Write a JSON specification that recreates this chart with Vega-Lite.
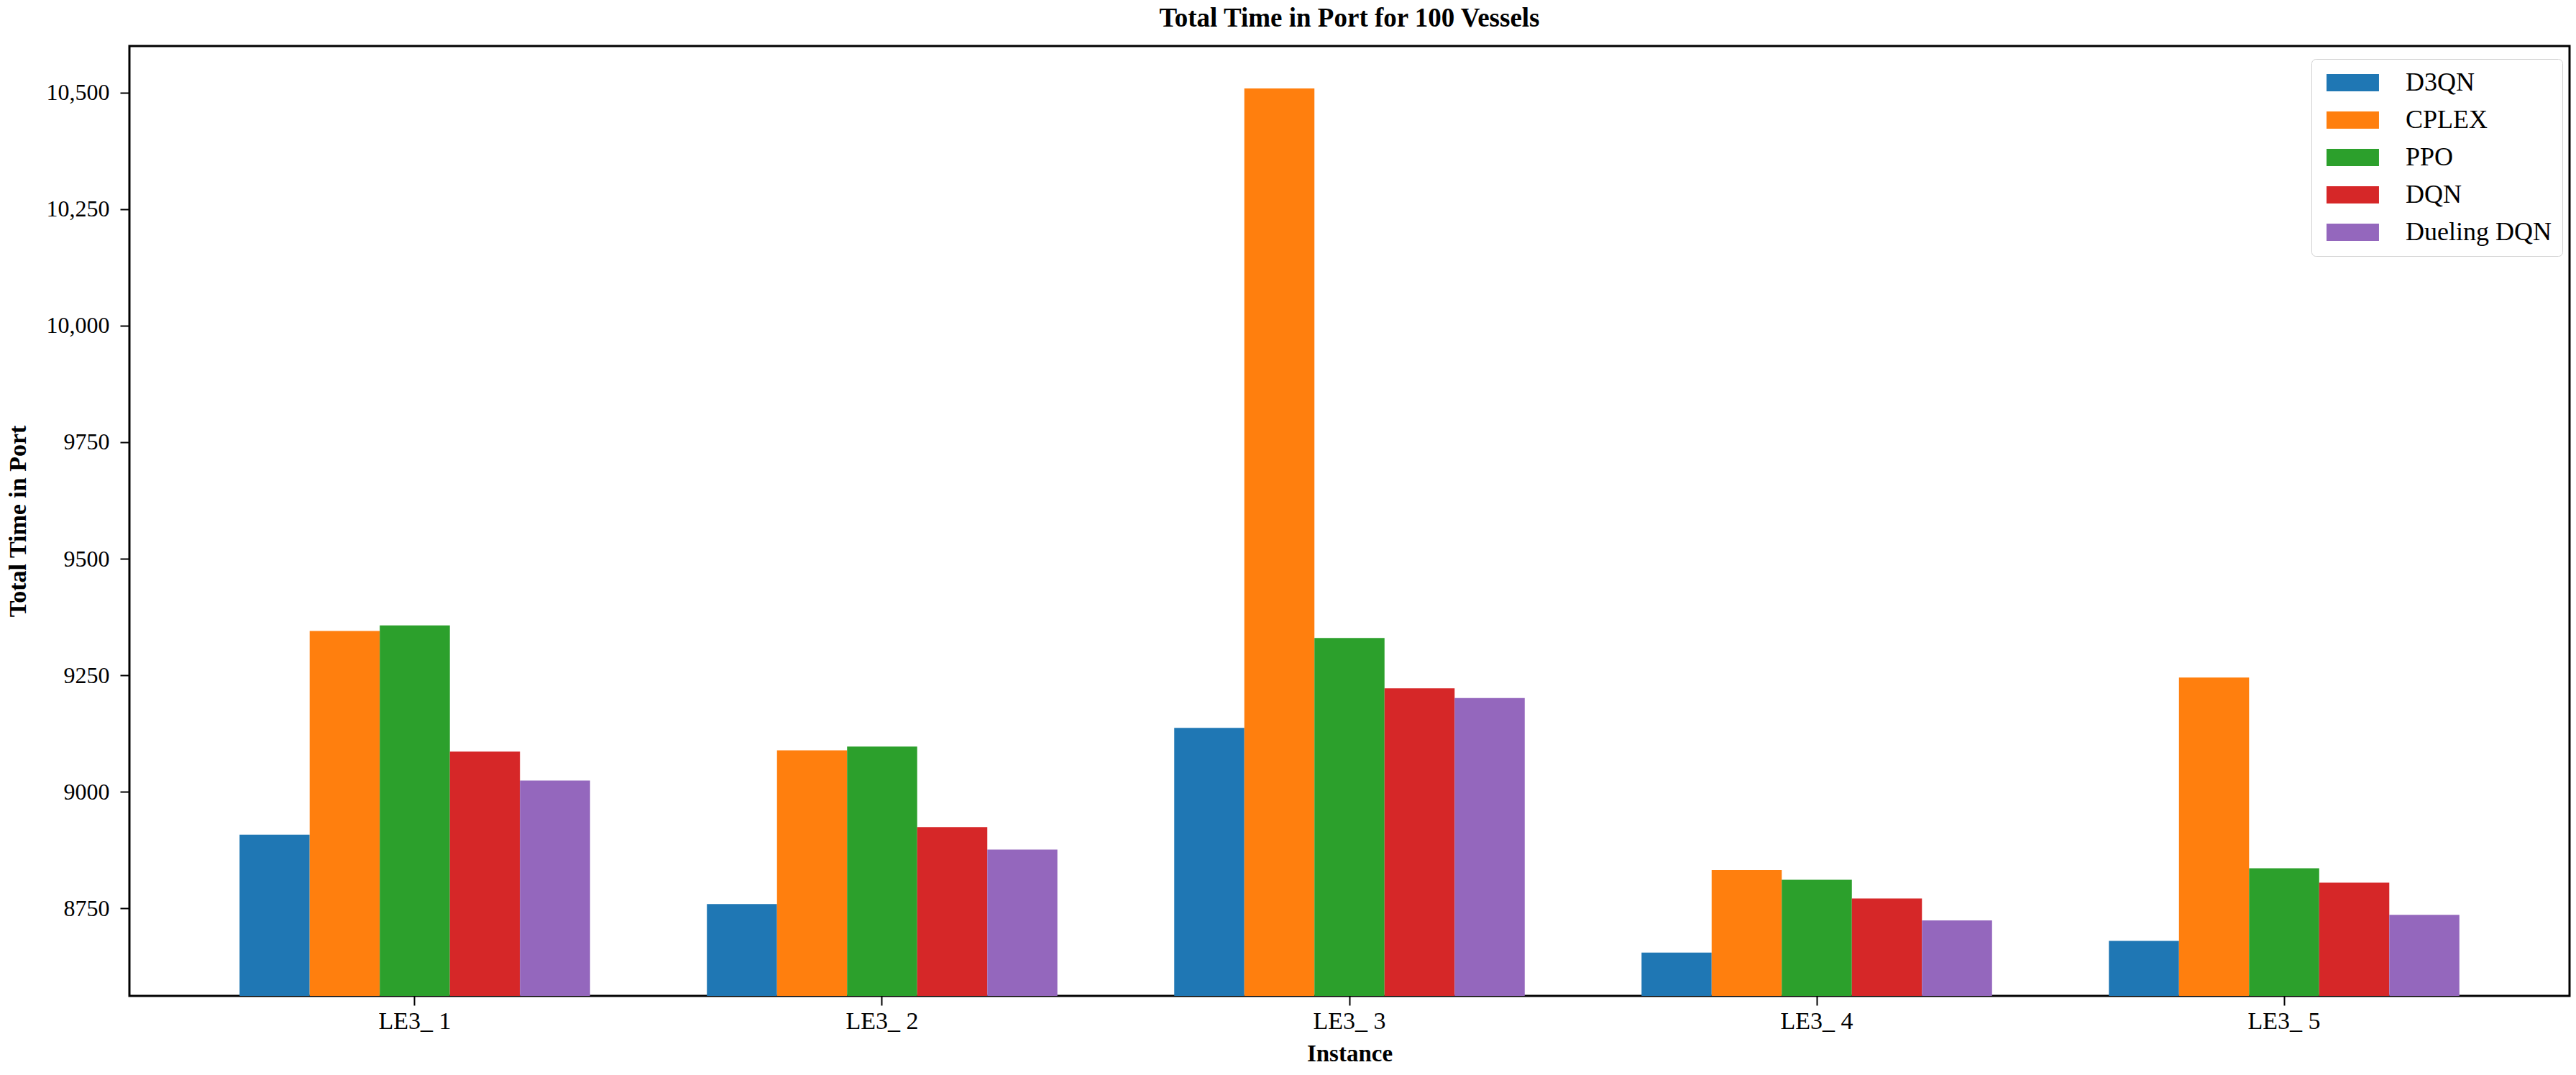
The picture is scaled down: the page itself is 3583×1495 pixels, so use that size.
{
  "$schema": "https://vega.github.io/schema/vega-lite/v6.json",
  "width": 3394,
  "height": 1321,
  "autosize": {"type": "none"},
  "padding": {"left": 180, "top": 64, "right": 9, "bottom": 110},
  "background": "white",
  "title": {"text": "Total Time in Port for 100 Vessels", "font": "Liberation Serif", "fontSize": 37, "fontWeight": "bold", "color": "black", "offset": 19, "anchor": "middle"},
  "data": {
    "values": [
      {"instance": "LE3_ 1", "method": "D3QN", "time": 8908},
      {"instance": "LE3_ 1", "method": "CPLEX", "time": 9345},
      {"instance": "LE3_ 1", "method": "PPO", "time": 9357},
      {"instance": "LE3_ 1", "method": "DQN", "time": 9086},
      {"instance": "LE3_ 1", "method": "Dueling DQN", "time": 9024},
      {"instance": "LE3_ 2", "method": "D3QN", "time": 8759},
      {"instance": "LE3_ 2", "method": "CPLEX", "time": 9089},
      {"instance": "LE3_ 2", "method": "PPO", "time": 9097},
      {"instance": "LE3_ 2", "method": "DQN", "time": 8924},
      {"instance": "LE3_ 2", "method": "Dueling DQN", "time": 8876},
      {"instance": "LE3_ 3", "method": "D3QN", "time": 9137},
      {"instance": "LE3_ 3", "method": "CPLEX", "time": 10509},
      {"instance": "LE3_ 3", "method": "PPO", "time": 9330},
      {"instance": "LE3_ 3", "method": "DQN", "time": 9222},
      {"instance": "LE3_ 3", "method": "Dueling DQN", "time": 9201},
      {"instance": "LE3_ 4", "method": "D3QN", "time": 8655},
      {"instance": "LE3_ 4", "method": "CPLEX", "time": 8832},
      {"instance": "LE3_ 4", "method": "PPO", "time": 8811},
      {"instance": "LE3_ 4", "method": "DQN", "time": 8771},
      {"instance": "LE3_ 4", "method": "Dueling DQN", "time": 8724},
      {"instance": "LE3_ 5", "method": "D3QN", "time": 8680},
      {"instance": "LE3_ 5", "method": "CPLEX", "time": 9245},
      {"instance": "LE3_ 5", "method": "PPO", "time": 8836},
      {"instance": "LE3_ 5", "method": "DQN", "time": 8805},
      {"instance": "LE3_ 5", "method": "Dueling DQN", "time": 8736}
    ]
  },
  "mark": {"type": "bar", "clip": true},
  "encoding": {
    "x": {
      "field": "instance", "type": "nominal",
      "sort": ["LE3_ 1", "LE3_ 2", "LE3_ 3", "LE3_ 4", "LE3_ 5"],
      "scale": {"paddingInner": 0.25, "paddingOuter": 0.2357},
      "axis": {
        "title": "Instance", "labelAngle": 0, "grid": false,
        "domain": false,
        "ticks": true, "tickColor": "black", "tickSize": 13, "tickWidth": 2,
        "labelFont": "Liberation Serif", "labelFontSize": 34, "labelColor": "black", "labelPadding": 5,
        "titleFont": "Liberation Serif", "titleFontSize": 33, "titleFontWeight": "bold", "titleColor": "black", "titlePadding": 12
      }
    },
    "xOffset": {
      "field": "method", "type": "nominal",
      "sort": ["D3QN", "CPLEX", "PPO", "DQN", "Dueling DQN"],
      "scale": {"paddingInner": 0, "paddingOuter": 0}
    },
    "y": {
      "field": "time", "type": "quantitative",
      "scale": {"domain": [8562, 10600], "zero": false, "nice": false},
      "axis": {
        "title": "Total Time in Port", "grid": false,
        "values": [8750, 9000, 9250, 9500, 9750, 10000, 10250, 10500],
        "labelExpr": "datum.value >= 10000 ? format(datum.value, ',') : format(datum.value, 'd')",
        "domain": false,
        "ticks": true, "tickColor": "black", "tickSize": 13, "tickWidth": 2,
        "labelFont": "Liberation Serif", "labelFontSize": 32, "labelColor": "black", "labelPadding": 15,
        "titleFont": "Liberation Serif", "titleFontSize": 34, "titleFontWeight": "bold", "titleColor": "black", "titlePadding": 22
      }
    },
    "color": {
      "field": "method", "type": "nominal",
      "sort": ["D3QN", "CPLEX", "PPO", "DQN", "Dueling DQN"],
      "scale": {"domain": ["D3QN", "CPLEX", "PPO", "DQN", "Dueling DQN"], "range": ["#1f77b4", "#ff7f0e", "#2ca02c", "#d62728", "#9467bd"]},
      "legend": {
        "title": null, "orient": "none", "legendX": 3035, "legendY": 18,
        "padding": 15, "strokeColor": "#d0d0d0", "cornerRadius": 6, "fillColor": "white",
        "symbolType": "M-1,-1H5.08V1H-1Z", "symbolSize": 576, "symbolStrokeWidth": 0, "symbolOpacity": 1,
        "labelFont": "Liberation Serif", "labelFontSize": 36, "labelColor": "black", "labelOffset": 80, "labelLimit": 400,
        "rowPadding": 16
      }
    }
  },
  "config": {"view": {"stroke": "black", "strokeWidth": 3}}
}
